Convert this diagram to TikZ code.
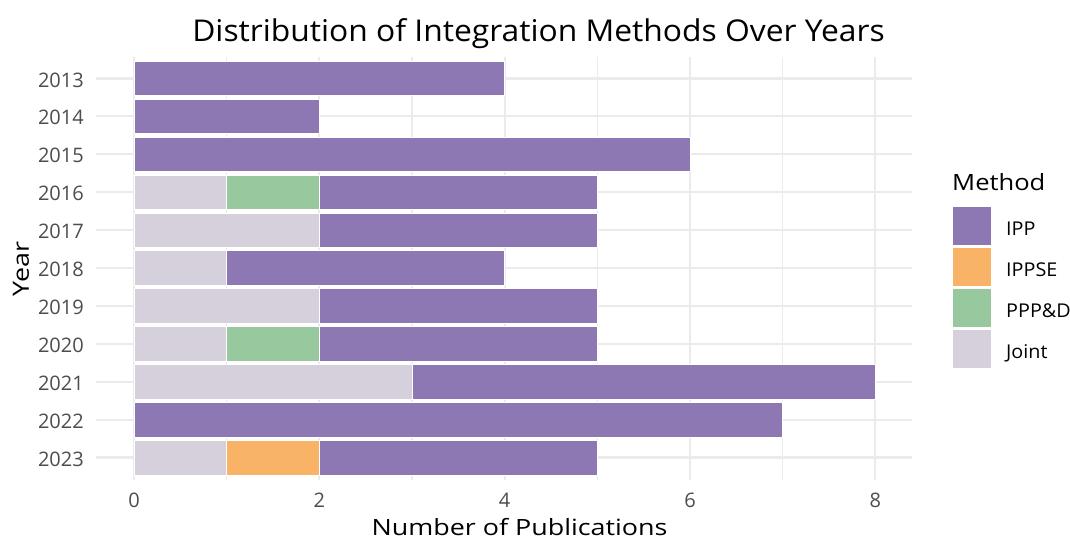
\documentclass[tikz,border=0pt]{standalone}
\usepackage{fontspec}
\setmainfont{Open Sans}
\definecolor{ipp}{HTML}{8E78B4}
\definecolor{ippse}{HTML}{F8B366}
\definecolor{pppd}{HTML}{98C99E}
\definecolor{joint}{HTML}{D6D0DC}
\definecolor{gridc}{HTML}{EBEBEB}
\definecolor{tickc}{HTML}{4D4D4D}
\newcommand\seg[4]{\fill[#4,draw=white,line width=0.6] ({134+92.67*#2},{78.5+37.9*#1-17.3}) rectangle ({134+92.67*#3},{78.5+37.9*#1+17.3});}
\newcommand\wide[2]{\scalebox{#1}[1]{#2}}
\tikzset{
  gridmajor/.style={draw=gridc,line width=2.2},
  gridminor/.style={draw=gridc,line width=1.1},
  ticklab/.style={text=tickc,font=\fontsize{20}{22}\selectfont,inner sep=0pt},
  axtitle/.style={text=black,font=\fontsize{22.4}{26}\selectfont,inner sep=0pt},
  legkey/.style={draw=white,line width=0.8},
  leglab/.style={text=black,font=\fontsize{19}{22}\selectfont,inner sep=0pt,anchor=base west}
}
\begin{document}
\begin{tikzpicture}[x=1pt,y=-1pt]
\useasboundingbox (0,0) rectangle (1070,540);
\fill[white] (0,0) rectangle (1070,540);
% grid
\foreach \v in {1,3,5,7} \draw[gridminor] ({134+92.67*\v},57) -- ({134+92.67*\v},480);
\foreach \v in {0,2,4,6,8} \draw[gridmajor] ({134+92.67*\v},57) -- ({134+92.67*\v},480);
\foreach \i in {0,...,10} \draw[gridmajor] (96,{78.5+37.9*\i}) -- (912,{78.5+37.9*\i});
% bars
\seg{0}{0}{4}{ipp}
\seg{1}{0}{2}{ipp}
\seg{2}{0}{6}{ipp}
\seg{3}{0}{1}{joint}\seg{3}{1}{2}{pppd}\seg{3}{2}{5}{ipp}
\seg{4}{0}{2}{joint}\seg{4}{2}{5}{ipp}
\seg{5}{0}{1}{joint}\seg{5}{1}{4}{ipp}
\seg{6}{0}{2}{joint}\seg{6}{2}{5}{ipp}
\seg{7}{0}{1}{joint}\seg{7}{1}{2}{pppd}\seg{7}{2}{5}{ipp}
\seg{8}{0}{3}{joint}\seg{8}{3}{8}{ipp}
\seg{9}{0}{7}{ipp}
\seg{10}{0}{1}{joint}\seg{10}{1}{2}{ippse}\seg{10}{2}{5}{ipp}
% y tick labels
\foreach \yr [count=\i from 0] in {2013,...,2023}
  \node[ticklab,anchor=base east] (y\yr) at (84,{78.5+37.9*\i+8.6}) {\yr};
% x tick labels
\foreach \v in {0,2,4,6,8}
  \node[ticklab,anchor=base] (x\v) at ({134+92.67*\v},507) {\v};
% titles
\node[inner sep=0pt,anchor=base,font=\fontsize{30}{34}\selectfont] (title) at (538.5,42) {\wide{1.06}{Distribution of Integration Methods Over Years}};
\node[axtitle,anchor=base] (xlab) at (519.5,535) {\wide{1.2}{Number of Publications}};
\node[axtitle,rotate=90] (ylab) at (21,269) {\wide{1.2}{Year}};
% legend
\node[axtitle,anchor=base west] (legtitle) at (952,190) {\wide{1.14}{Method}};
\fill[ipp,legkey] (952.5,206.5) rectangle (991,245.5);
\fill[ippse,legkey] (952.5,247.5) rectangle (991,286.5);
\fill[pppd,legkey] (952.5,288.5) rectangle (991,327.5);
\fill[joint,legkey] (952.5,329.5) rectangle (991,368.5);
\node[leglab] (l1) at (1006,235) {\wide{1.04}{IPP}};
\node[leglab] (l2) at (1006,276) {\wide{1.04}{IPPSE}};
\node[leglab] (l3) at (1006,317) {\wide{1.04}{PPP\&D}};
\node[leglab] (l4) at (1006,358) {\wide{1.04}{Joint}};
\end{tikzpicture}
\end{document}
